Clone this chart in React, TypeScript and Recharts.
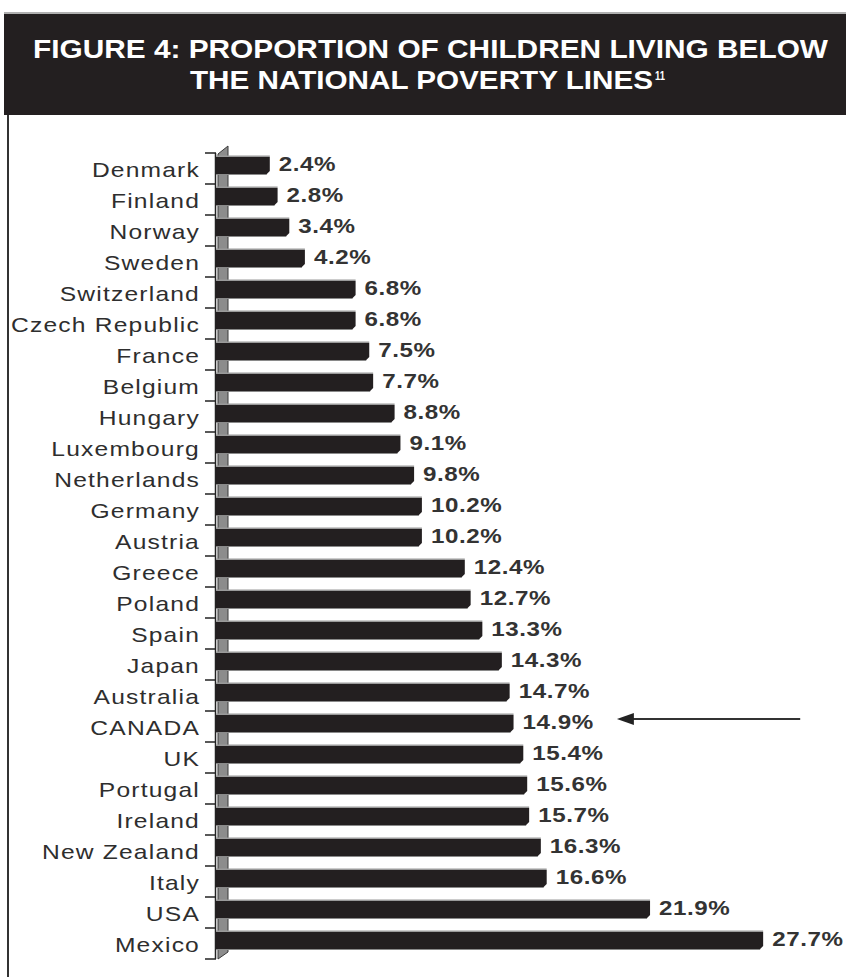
import React from 'react';
import { BarChart, Bar, XAxis, YAxis, LabelList, ReferenceArea, ReferenceLine } from 'recharts';

// Countries, top to bottom
const countries = [
  'Denmark', 'Finland', 'Norway', 'Sweden', 'Switzerland', 'Czech Republic', 'France',
  'Belgium', 'Hungary', 'Luxembourg', 'Netherlands', 'Germany', 'Austria', 'Greece',
  'Poland', 'Spain', 'Japan', 'Australia', 'CANADA', 'UK', 'Portugal', 'Ireland',
  'New Zealand', 'Italy', 'USA', 'Mexico',
];

// % of children below national poverty line
const povertyRates = [
  2.4, 2.8, 3.4, 4.2, 6.8, 6.8, 7.5, 7.7, 8.8, 9.1, 9.8, 10.2, 10.2, 12.4,
  12.7, 13.3, 14.3, 14.7, 14.9, 15.4, 15.6, 15.7, 16.3, 16.6, 21.9, 27.7,
];

const titleLines = ['FIGURE 4: PROPORTION OF CHILDREN LIVING BELOW', 'THE NATIONAL POVERTY LINES'];
const footnote = '11';
const highlighted = 'CANADA';
const arrowSpan = [20.2, 29.6]; // arrow pointing at Canada, in % units

const data = countries.map((country, i) => ({ country, value: povertyRates[i] }));

const FONT = '"Liberation Sans", Arial, sans-serif';
const DARK = '#231f20';
const BAND = 31; // category band height

// 3D-ish bar: dark face, grey top edge, starts a bit left of zero (depth offset)
const BarShape = (props: any) => {
  const { x, y, width, height } = props;
  const x0 = x - 7;
  const top = y - 3;
  const right = x + width;
  return (
    <g>
      <rect x={x0} y={top - 1.5} width={right - x0} height={1.5} fill="#9a9a9a" />
      <polygon
        points={`${x0},${top} ${right},${top} ${right},${top + height - 3} ${right - 3},${top + height} ${x0},${top + height}`}
        fill={DARK}
      />
      <rect x={x0} y={top + height} width={right - x0 - 3} height={1} fill="#8a8a8a" />
    </g>
  );
};

const ValueLabel = (props: any) => {
  const { x, y, width, height, value } = props;
  const tx = x + width + 9;
  const ty = y - 3 + height / 2 - 1.5;
  return (
    <text
      transform={`translate(${tx},${ty}) scale(1.15,1)`}
      x={0}
      y={0}
      dominantBaseline="central"
      fontFamily={FONT}
      fontWeight="bold"
      fontSize={21}
      letterSpacing={0.5}
      fill="#333"
    >
      {`${Number(value).toFixed(1)}%`}
    </text>
  );
};

const CountryTick = (props: any) => {
  const { x, y, payload, index } = props;
  return (
    <g>
      <line x1={x + 5} x2={x + 16} y1={y - BAND / 2} y2={y - BAND / 2} stroke="#222" strokeWidth={1.5} />
      {index === countries.length - 1 && (
        <line x1={x + 5} x2={x + 16} y1={y + BAND / 2} y2={y + BAND / 2} stroke="#222" strokeWidth={1.5} />
      )}
      <text
        transform={`translate(${x},${y + 1.5}) scale(1.2,1)`}
        x={0}
        y={0}
        textAnchor="end"
        dominantBaseline="central"
        fontFamily={FONT}
        fontSize={20.5}
        letterSpacing={1}
        fill="#2e2e2e"
      >
        {payload.value}
      </text>
    </g>
  );
};

// grey back wall of the axis plus axis line
const Wall = (props: any) => {
  const { x, y, height } = props;
  const l = x - 5;
  const r = x + 5;
  return (
    <g>
      <polygon
        points={`${l},${y + 1} ${r},${y - 7} ${r},${y + height - 7} ${l},${y + height}`}
        fill="#8c8c8c"
        stroke="#3a3a3a"
        strokeWidth={1}
      />
      <line x1={x - 7.5} x2={x - 7.5} y1={y} y2={y + height} stroke="#222" strokeWidth={1.5} />
    </g>
  );
};

const Arrow = (props: any) => {
  const { x1, y1, x2 } = props;
  const left = Math.min(x1, x2);
  const right = Math.max(x1, x2);
  const yy = y1 - 7.5;
  return (
    <g>
      <line x1={left + 14} x2={right} y1={yy} y2={yy} stroke="#333" strokeWidth={2} />
      <polygon points={`${left},${yy} ${left + 17},${yy - 6} ${left + 17},${yy + 6}`} fill="#222" />
    </g>
  );
};

const App: React.FC = () => {
  return (
    <div style={{ position: 'absolute', left: 0, top: 0, width: 846, height: 977, background: '#fff', overflow: 'hidden' }}>
      <div style={{ position: 'absolute', left: 4, top: 12, width: 842, height: 2, background: '#b0b0b0' }} />
      <div style={{ position: 'absolute', left: 4, top: 14, width: 842, height: 101, background: DARK }}>
        <svg width={842} height={101}>
          <text x={29} y={43.5} textLength={795} lengthAdjust="spacingAndGlyphs" fontFamily={FONT} fontWeight="bold" fontSize={26.5} fill="#fff">
            {titleLines[0]}
          </text>
          <text x={186} y={74.5} textLength={463} lengthAdjust="spacingAndGlyphs" fontFamily={FONT} fontWeight="bold" fontSize={26.5} fill="#fff">
            {titleLines[1]}
          </text>
          <text x={651} y={66} textLength={10} lengthAdjust="spacingAndGlyphs" fontFamily={FONT} fontWeight="bold" fontSize={12} fill="#fff">
            {footnote}
          </text>
        </svg>
      </div>
      <div style={{ position: 'absolute', left: 7, top: 115, width: 2, height: 862, background: '#333' }} />
      <div style={{ position: 'absolute', left: 0, top: 0 }}>
        <BarChart
          width={846}
          height={977}
          data={data}
          layout="vertical"
          margin={{ top: 153, right: 38, bottom: 18, left: 0 }}
          barSize={17}
        >
          <XAxis type="number" domain={[0, 30]} hide />
          <YAxis
            type="category"
            dataKey="country"
            width={223}
            axisLine={false}
            tickLine={false}
            tickSize={0}
            tickMargin={23}
            interval={0}
            tick={<CountryTick />}
          />
          <ReferenceArea x1={0} x2={0.25} shape={<Wall />} zIndex={-600} ifOverflow="visible" />
          <Bar dataKey="value" shape={<BarShape />} isAnimationActive={false}>
            <LabelList dataKey="value" content={<ValueLabel />} />
          </Bar>
          <ReferenceLine
            segment={[{ x: arrowSpan[0], y: highlighted }, { x: arrowSpan[1], y: highlighted }]}
            shape={<Arrow />}
            ifOverflow="visible"
          />
        </BarChart>
      </div>
    </div>
  );
};

export default App;
